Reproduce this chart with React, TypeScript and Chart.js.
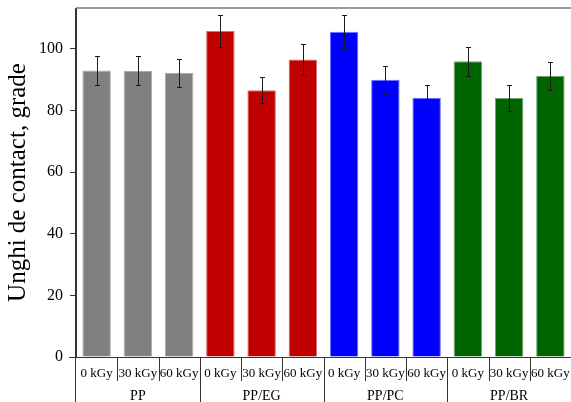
import React, { useEffect, useRef } from "react";
import { Chart, registerables } from "chart.js";

Chart.register(...registerables);

const categories = ["0 kGy", "30 kGy", "60 kGy", "0 kGy", "30 kGy", "60 kGy", "0 kGy", "30 kGy", "60 kGy", "0 kGy", "30 kGy", "60 kGy"];
const groups = ["PP", "PP/EG", "PP/PC", "PP/BR"];
const values = [93.0, 92.9, 92.3, 105.8, 86.6, 96.6, 105.6, 90.0, 84.2, 96.0, 84.1, 91.3];
const errors = [4.7, 4.7, 4.6, 5.2, 4.3, 4.9, 5.3, 4.5, 4.2, 4.7, 4.2, 4.5];
const groupColors = ["#808080", "#c00000", "#0000ff", "#006400"];
const groupBorders = ["#a8a8a8", "#d87070", "#7070ff", "#70a870"];
const yTicks = [0, 20, 40, 60, 80, 100];
const yMax = 113.3;
const yTitle = "Unghi de contact, grade";

const SERIF = "'Liberation Serif', 'Times New Roman', serif";

export default function App() {
  const ref = useRef<HTMLCanvasElement | null>(null);

  useEffect(() => {
    document.body.style.margin = "0";
    const canvas = ref.current;
    if (!canvas) return;

    const errorBars = {
      id: "errorBars",
      afterDatasetsDraw(chart: any) {
        const ctx = chart.ctx;
        const yScale = chart.scales.y;
        const meta = chart.getDatasetMeta(0);
        ctx.save();
        ctx.strokeStyle = "#1a1a1a";
        ctx.lineWidth = 1;
        meta.data.forEach((bar: any, i: number) => {
          const x = Math.round(bar.x) + 0.5;
          const yt = Math.round(yScale.getPixelForValue(values[i] + errors[i])) + 0.5;
          const yb = Math.round(yScale.getPixelForValue(values[i] - errors[i])) + 0.5;
          ctx.beginPath();
          ctx.moveTo(x, yt);
          ctx.lineTo(x, yb);
          ctx.moveTo(x - 2.5, yt);
          ctx.lineTo(x + 2.5, yt);
          ctx.moveTo(x - 2.5, yb);
          ctx.lineTo(x + 2.5, yb);
          ctx.stroke();
        });
        ctx.restore();
      },
    };

    const axesPlugin = {
      id: "axesPlugin",
      afterDraw(chart: any) {
        const ctx = chart.ctx;
        const area = chart.chartArea;
        const xScale = chart.scales.x;
        const H = chart.height;
        ctx.save();
        // top frame line
        ctx.strokeStyle = "#7a7a7a";
        ctx.lineWidth = 1.5;
        ctx.beginPath();
        ctx.moveTo(area.left, area.top);
        ctx.lineTo(area.right, area.top);
        ctx.stroke();
        // left axis line extension and bottom axis
        ctx.strokeStyle = "#333333";
        ctx.lineWidth = 1;
        ctx.beginPath();
        ctx.moveTo(Math.round(area.left) - 0.5, area.top);
        ctx.lineTo(Math.round(area.left) - 0.5, H);
        ctx.moveTo(area.left - 7, Math.round(area.bottom) + 0.5);
        ctx.lineTo(area.right, Math.round(area.bottom) + 0.5);
        ctx.stroke();
        // separators
        for (let i = 0; i < categories.length - 1; i++) {
          const xs = Math.round((xScale.getPixelForValue(i) + xScale.getPixelForValue(i + 1)) / 2) + 0.5;
          const isGroup = i % 3 === 2;
          ctx.beginPath();
          ctx.moveTo(xs, area.bottom);
          ctx.lineTo(xs, isGroup ? H : area.bottom + 24);
          ctx.stroke();
        }
        // category labels
        ctx.fillStyle = "#000000";
        ctx.textAlign = "center";
        ctx.textBaseline = "middle";
        ctx.font = "13px " + SERIF;
        categories.forEach((c, i) => {
          ctx.fillText(c, xScale.getPixelForValue(i), area.bottom + 17);
        });
        ctx.font = "14px " + SERIF;
        groups.forEach((g, gi) => {
          ctx.fillText(g, xScale.getPixelForValue(gi * 3 + 1), area.bottom + 39);
        });
        ctx.restore();
      },
    };

    const chart = new Chart(canvas, {
      type: "bar",
      data: {
        labels: categories.map((c, i) => c + "|" + i),
        datasets: [
          {
            data: values,
            backgroundColor: values.map((_, i) => groupColors[Math.floor(i / 3)]),
            borderColor: values.map((_, i) => groupBorders[Math.floor(i / 3)]),
            borderWidth: 1,
            barPercentage: 0.69,
            categoryPercentage: 1,
          },
        ],
      },
      options: {
        responsive: false,
        animation: false,
        layout: { padding: { top: 8, left: 0, right: 0, bottom: 0 } },
        plugins: { legend: { display: false }, tooltip: { enabled: false } },
        scales: {
          x: {
            ticks: { display: false },
            grid: { display: false },
            border: { display: false },
            afterFit: (s: any) => {
              s.height = 45;
              s.paddingLeft = 0;
              s.paddingRight = 0;
            },
          },
          y: {
            min: 0,
            max: yMax,
            afterBuildTicks: (s: any) => {
              s.ticks = yTicks.map((v) => ({ value: v }));
            },
            ticks: {
              color: "#000000",
              font: { family: SERIF, size: 16 },
              padding: 7,
            },
            grid: {
              drawOnChartArea: false,
              drawTicks: true,
              tickLength: 6,
              color: "#333333",
            },
            border: { display: true, color: "#333333", width: 1 },
            title: {
              display: true,
              text: yTitle,
              color: "#000000",
              font: { family: SERIF, size: 25 },
              padding: { top: 3, bottom: 0 },
            },
            afterFit: (s: any) => {
              s.width = 76;
              s.paddingTop = 0;
              s.paddingBottom = 0;
            },
          },
        },
      },
      plugins: [errorBars, axesPlugin],
    });

    return () => chart.destroy();
  }, []);

  return (
    <div style={{ width: 571, height: 402, background: "#ffffff" }}>
      <canvas ref={ref} width={571} height={402} style={{ display: "block" }} />
    </div>
  );
}
